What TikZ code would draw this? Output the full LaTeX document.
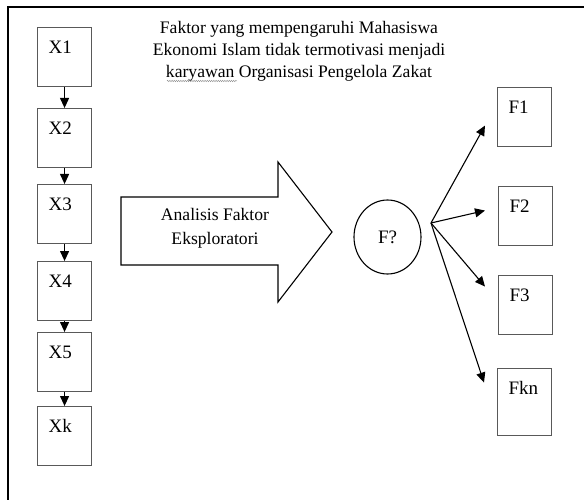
\documentclass[tikz,border=0pt]{standalone}
\usepackage{fontspec}
\setmainfont{Liberation Serif}
\usetikzlibrary{arrows.meta,shapes.geometric,decorations.pathmorphing}

\begin{document}
\begin{tikzpicture}[x=1pt, y=-1pt,
    >={Triangle[length=10pt, width=9pt]},
    kotak/.style={draw=black!65, line width=1.1pt, anchor=north west,
        inner xsep=11pt, inner ysep=0pt, text width=32pt, align=left,
        text height=26pt, text depth=33pt, font=\fontsize{19}{22}\selectfont},
    panah/.style={->, line width=1.1pt},
    teks/.style={align=center, font=\fontsize{17.6}{22}\selectfont}]
    \useasboundingbox (0,0) rectangle (584,500);

    % Bingkai
    \draw[line width=1.1pt] (8,500) -- (8,7) -- (584,7);

    % Judul
    \node[teks] (judul) at (299,51) {Faktor yang mempengaruhi Mahasiswa\\
        Ekonomi Islam tidak termotivasi menjadi\\
        karyawan Organisasi Pengelola Zakat};
    \draw[black!45, decorate, decoration={snake, amplitude=0.7pt, segment length=2.2pt}]
        (167,81) -- (237,81); % garis ejaan

    % Variabel X
    \foreach \nama/\label/\y in {x1/X1/27, x2/X2/108, x3/X3/184, x4/X4/261, x5/X5/332, xk/Xk/406} {
        \node[kotak] (\nama) at (37,\y) {\label};
    }
    \foreach \a/\b in {x1/x2, x2/x3, x3/x4, x4/x5, x5/xk} {
        \draw[panah] (\a) -- (\b);
    }

    % Panah analisis
    \draw[line width=1.1pt] (121,197) -- (278,197) -- (278,162) -- (332,232)
        -- (278,302) -- (278,265) -- (121,265) -- cycle;
    \node[teks] (efa) at (215,228) {Analisis Faktor\\[2pt]Eksploratori};

    % Faktor
    \node[ellipse, draw, line width=1.1pt, minimum width=67pt, minimum height=74pt,
        inner sep=0pt, font=\fontsize{19}{22}\selectfont] (fq) at (387.5,237) {F?};
    \coordinate (kipas) at (431,223);

    \node[kotak] (f1) at (497,87) {F1};
    \node[kotak] (f2) at (498,186) {F2};
    \node[kotak] (f3) at (498,275) {F3};
    \node[kotak, text depth=41pt] (fkn) at (497,368) {Fkn};

    \draw[panah] (kipas) -- ([xshift=-12pt, yshift=-8.5pt]f1.west);
    \draw[panah] (kipas) -- ([xshift=-13pt, yshift=5.5pt]f2.west);
    \draw[panah] (kipas) -- ([xshift=-13pt, yshift=18.5pt]f3.west);
    \draw[panah] (kipas) -- ([xshift=-13pt, yshift=19.5pt]fkn.west);

\end{tikzpicture}
\end{document}
